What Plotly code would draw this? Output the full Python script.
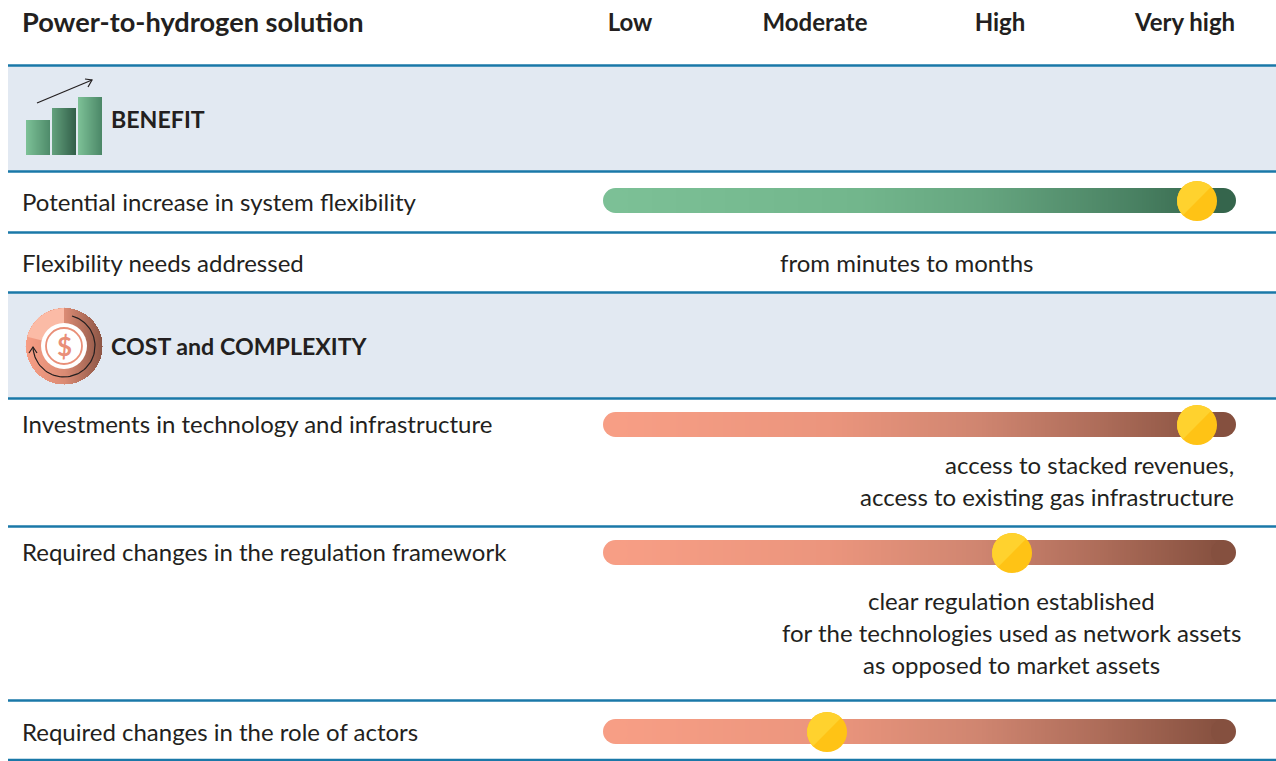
import numpy as np
import plotly.graph_objects as go

W, H = 1276, 761
TOP = 37
FONT = "Lato"
INK = "#231F20"

# --- data -----------------------------------------------------------------
title = "Power-to-hydrogen solution"
levels = [0, 1, 2, 3]
level_labels = ["Low", "Moderate", "High", "Very high"]

row_labels = ["Potential increase in system flexibility", "Flexibility needs addressed",
              "Investments in technology and infrastructure",
              "Required changes in the regulation framework",
              "Required changes in the role of actors"]
row_label_y = [201, 262, 423, 551, 731]

rated_rows = ["flex", "invest", "regulation", "actors"]
rated_values = [3.065, 3.065, 2.065, 1.065]
rated_y = [201, 425, 553, 732]
rated_kind = ["green", "salmon", "salmon", "salmon"]

section_labels = ["BENEFIT", "COST and COMPLEXITY"]
section_y = [119, 346]
section_bands = [(65.5, 171.5), (292.5, 398.5)]
separators = [65.5, 171.5, 232.5, 292.5, 398.5, 526.5, 700.5, 760]

notes = ["from minutes to months", "access to stacked revenues,",
         "access to existing gas infrastructure", "clear regulation established",
         "for the technologies used as network assets", "as opposed to market assets"]
note_level = [1.497, 3.265, 3.265, 2.06, 2.06, 2.06]
note_y = [262, 464, 496, 600, 632, 664]
note_anchor = ["center", "right", "right", "center", "center", "center"]


# --- scale helpers ---------------------------------------------------------
def lev(px):
    return (np.asarray(px, dtype=float) - 630) / 185


GREEN = [[0, "#7CC096"], [0.4, "#72B68C"], [0.6, "#66A680"], [0.85, "#4A8263"], [1, "#35654C"]]
SALMON = [[0, "#F79E85"], [0.35, "#EB957D"], [0.6, "#CF8570"], [0.8, "#AD6C59"], [1, "#85503F"]]
fig = go.Figure()


def gradient(x0, x1, y0, y1, scale, n=160):
    edges = lev(np.linspace(x0, x1, n + 1))
    fig.add_trace(go.Heatmap(x=edges, y=[y0, y1], z=[np.linspace(0, 1, n)], zmin=0, zmax=1,
                             colorscale=scale, showscale=False, hoverinfo="skip"))


# gradient bars with round caps
BAR_L, BAR_R, BAR_H = 603, 1236, 25
for yc, kind in zip(rated_y, rated_kind):
    scale = GREEN if kind == "green" else SALMON
    top = yc - BAR_H / 2 - 0.5
    gradient(BAR_L + BAR_H / 2, BAR_R - BAR_H / 2, top, top + BAR_H, scale, 300)
    fig.add_trace(go.Scatter(x=lev([BAR_L + BAR_H / 2, BAR_R - BAR_H / 2]), y=[top + BAR_H / 2] * 2,
                             mode="markers", hoverinfo="skip",
                             marker=dict(size=BAR_H, color=[scale[0][1], scale[-1][1]], line_width=0)))

# rating discs
R = 20
for val, yc in zip(rated_values, rated_y):
    fig.add_trace(go.Scatter(x=[val], y=[yc], mode="markers", hoverinfo="skip",
                             marker=dict(size=2 * R, color="#FFC315", line_width=0)))
    a = np.radians(np.linspace(135, 315, 60))
    cx = 630 + val * 185
    fig.add_trace(go.Scatter(x=lev(cx + R * np.cos(a)), y=yc + R * np.sin(a), mode="lines", fill="toself",
                             fillcolor="#FFD22E", line_width=0, hoverinfo="skip"))

# benefit icon
gradient(26, 50, 120, 155, [[0, "#7CC096"], [1, "#4F8C6B"]], 24)
gradient(52, 76, 108, 155, [[0, "#62A07C"], [1, "#33604A"]], 24)
gradient(78, 102, 97, 155, [[0, "#7CC096"], [1, "#4C8868"]], 24)
for xs, ys in [([37, 92], [103, 80]), ([85, 92, 88], [79, 80, 87])]:
    fig.add_trace(go.Scatter(x=lev(xs), y=ys, mode="lines", hoverinfo="skip",
                             line=dict(color=INK, width=1.2)))

# cost icon
CX, CY, CR = 64, 346, 38
gx = np.arange(CX - CR, CX + CR + 0.5, 0.5)
gy = np.arange(CY - CR, CY + CR + 0.5, 0.5)
mx, my = np.meshgrid(gx, gy)
zz = (mx - gx[0]) / (gx[-1] - gx[0])
zz[(mx - CX) ** 2 + (my - CY) ** 2 > CR ** 2] = np.nan
fig.add_trace(go.Heatmap(x=lev(gx), y=gy, z=zz, zmin=0, zmax=1, showscale=False, hoverinfo="skip",
                         colorscale=[[0, "#F79E85"], [0.5, "#DB8B74"], [1, "#8C5545"]]))
a = np.radians(np.linspace(-90, -166, 40))
fig.add_trace(go.Scatter(x=lev(np.r_[CX, CX + CR * np.cos(a)]), y=np.r_[CY, CY + CR * np.sin(a)],
                         mode="lines", fill="toself", fillcolor="#FBBBA6", line_width=0, hoverinfo="skip"))
fig.add_trace(go.Scatter(x=lev([CX]), y=[CY], mode="markers", hoverinfo="skip",
                         marker=dict(size=46, color="white", line_width=0)))
fig.add_trace(go.Scatter(x=lev([CX]), y=[CY], mode="markers", hoverinfo="skip",
                         marker=dict(size=36, color="white", line=dict(color="#E98F78", width=1.8))))
a = np.radians(np.linspace(-75, 178, 70))
fig.add_trace(go.Scatter(x=lev(CX + 31 * np.cos(a)), y=CY + 31 * np.sin(a), mode="lines", hoverinfo="skip",
                         line=dict(color=INK, width=1.2)))
fig.add_trace(go.Scatter(x=lev([29, 33, 37]), y=[353, 347, 353], mode="lines", hoverinfo="skip",
                         line=dict(color=INK, width=1.2)))

# --- text ------------------------------------------------------------------
ann = []


def text(x, y, s, size=24, bold=False, anchor="left"):
    ann.append(dict(x=float(x), y=y, xref="x", yref="y", text=f"<b>{s}</b>" if bold else s, showarrow=False,
                    xanchor=anchor, yanchor="middle", font=dict(family=FONT, size=size, color=INK), borderpad=0, borderwidth=0))


for s, y in zip(section_labels, section_y):
    text(lev(111), y, s, 23.2, True)
for s, y in zip(row_labels, row_label_y):
    text(lev(22), y, s)
for s, lv, y, an in zip(notes, note_level, note_y, note_anchor):
    text(lv, y, s, anchor=an)
text(lev(64), 346, "<b>$</b>", 26, False, "center")
ann[-1]["font"]["color"] = "#E98F78"

# --- layout ----------------------------------------------------------------
shapes = [dict(type="rect", xref="x", yref="y", x0=float(lev(8)), x1=float(lev(W)), y0=a_, y1=b_,
               fillcolor="#E2E9F2", line_width=0, layer="below") for a_, b_ in section_bands]
shapes += [dict(type="line", xref="x", yref="y", x0=float(lev(8)), x1=float(lev(W)), y0=y, y1=y,
                line=dict(color="#1A78A8", width=2.5), layer="below") for y in separators]

fig.update_layout(
    width=W, height=H, margin=dict(l=0, r=0, t=TOP, b=0), paper_bgcolor="white", plot_bgcolor="white",
    showlegend=False, hovermode=False, shapes=shapes, annotations=ann,
    title=dict(text=f"<b>{title}</b>", x=22 / W, xanchor="left", xref="paper", y=1 - 22 / H, yanchor="middle",
               font=dict(family=FONT, size=27.2, color=INK)),
    xaxis=dict(range=[float(lev(0)), float(lev(W))], side="top", tickmode="array", tickvals=levels,
               ticktext=[f"<b>{s}</b>" for s in level_labels], tickfont=dict(family=FONT, size=24, color=INK),
               showgrid=False, zeroline=False, showline=False, ticks="", ticklabelstandoff=0),
    yaxis=dict(range=[H, TOP], showgrid=False, zeroline=False, showline=False, showticklabels=False, ticks=""),
)
fig.write_html("out.html", config={"displayModeBar": False},
               post_script="document.body.style.margin='0';document.documentElement.style.overflow='hidden';")
